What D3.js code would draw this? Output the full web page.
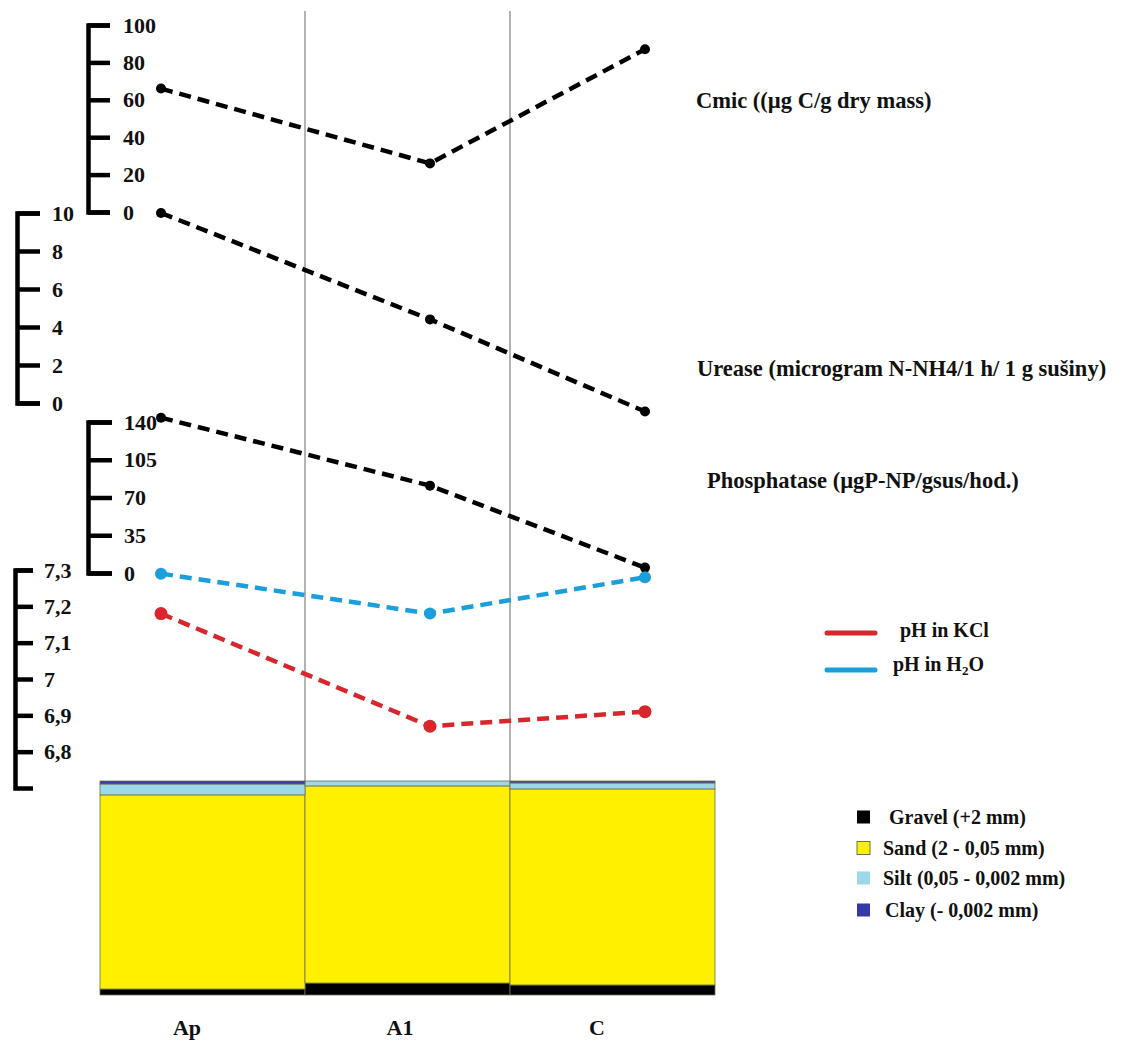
<!DOCTYPE html>
<html>
<head>
<meta charset="utf-8">
<script src="https://cdn.jsdelivr.net/npm/d3@7"></script>
<style>
  body { margin: 0; background: #fff; }
  svg { display: block; }
  text { font-family: "Liberation Serif", "Times New Roman", serif; font-weight: bold; fill: #111; }
</style>
</head>
<body>
<svg id="chart" width="1125" height="1041"></svg>
<script>
const horizons = ["Ap", "A1", "C"];

// enzyme / biomass lines
const cmic = [66, 26, 87];
const urease = [10, 4.4, -0.45];
const phosphatase = [144, 81, 5];

// pH lines
const phKCl = [7.18, 6.87, 6.91];
const phH2O = [7.29, 7.18, 7.28];

// grain size (%), bottom to top
const gravel = [2.8, 5.6, 4.7];
const sand = [90.7, 92.1, 91.6];
const silt = [5.1, 2.3, 2.8];
const clay = [1.4, 0, 0.9];

const cmicTicks = [0, 20, 40, 60, 80, 100];
const ureaseTicks = [0, 2, 4, 6, 8, 10];
const phosTicks = [0, 35, 70, 105, 140];
const phTicks = [6.8, 6.9, 7, 7.1, 7.2, 7.3];

const fractions = [
    {key: "gravel", label: "Gravel (+2 mm)", values: gravel, color: "#000000"},
    {key: "sand", label: "Sand (2 - 0,05 mm)", values: sand, color: "#fff000"},
    {key: "silt", label: "Silt (0,05 - 0,002 mm)", values: silt, color: "#9dd8e8"},
    {key: "clay", label: "Clay (- 0,002 mm)", values: clay, color: "#3539a8"}
];

const svg = d3.select("#chart");

// scales
const xBand = d3.scaleBand().domain(horizons).range([100, 715]).padding(0);
const xPoint = d3.scaleOrdinal().domain(horizons).range([161, 430, 645]);
const xLabel = d3.scaleOrdinal().domain(horizons).range([187, 400, 597]);

const yCmic = d3.scaleLinear().domain([0, 100]).range([212, 25]);
const yUrease = d3.scaleLinear().domain([0, 10]).range([403, 213]);
const yPhos = d3.scaleLinear().domain([0, 140]).range([573, 422]);
const yPh = d3.scaleLinear().domain([6.7, 7.3]).range([788, 570]);
const ySoil = d3.scaleLinear().domain([0, 100]).range([995, 781]);

const commaFormat = d => String(d).replace(".", ",");

// vertical separators between horizons
svg.append("g")
    .selectAll("line")
    .data(horizons.slice(1))
    .join("line")
    .attr("x1", d => xBand(d))
    .attr("x2", d => xBand(d))
    .attr("y1", 11)
    .attr("y2", ySoil(100))
    .attr("stroke", "#9a9a9a")
    .attr("stroke-width", 1.5);

// stacked grain size bars
const stack = d3.stack()
    .keys(fractions.map(f => f.key))
    .value((d, key) => d[key]);
const soilRows = horizons.map((h, i) => ({
    horizon: h, gravel: gravel[i], sand: sand[i], silt: silt[i], clay: clay[i]
}));
const layers = stack(soilRows);

svg.append("g")
    .selectAll("g")
    .data(layers)
    .join("g")
    .attr("fill", (d, i) => fractions[i].color)
    .selectAll("rect")
    .data(d => d)
    .join("rect")
    .attr("x", d => xBand(d.data.horizon))
    .attr("width", xBand.bandwidth())
    .attr("y", d => ySoil(d[1]))
    .attr("height", d => ySoil(d[0]) - ySoil(d[1]))
    .attr("stroke", "#6f6f55")
    .attr("stroke-width", 0.8);

// y axes
function drawAxis(scale, x, ticks, size, pad) {
    const g = svg.append("g")
        .attr("transform", "translate(" + x + ",0)")
        .call(d3.axisRight(scale)
            .tickValues(ticks)
            .tickSize(size)
            .tickSizeOuter(size)
            .tickPadding(pad)
            .tickFormat(commaFormat));
    g.select(".domain").attr("stroke", "#000").attr("stroke-width", 4.5);
    g.selectAll(".tick line").attr("stroke", "#000").attr("stroke-width", 4.5);
    g.selectAll(".tick text")
        .attr("fill", "#111")
        .style("font-family", "'Liberation Serif', serif")
        .style("font-weight", "bold")
        .style("font-size", "22px");
    return g;
}

drawAxis(yCmic, 88, cmicTicks, 22, 13);
drawAxis(yUrease, 17, ureaseTicks, 23, 12);
drawAxis(yPhos, 88, phosTicks, 24, 12);
drawAxis(yPh, 15, phTicks, 18, 11);

// dashed series
const series = [
    {values: cmic, y: yCmic, color: "#000", r: 5},
    {values: urease, y: yUrease, color: "#000", r: 5},
    {values: phosphatase, y: yPhos, color: "#000", r: 5},
    {values: phH2O, y: yPh, color: "#1a9fdb", r: 6},
    {values: phKCl, y: yPh, color: "#d9262c", r: 6.5}
];

series.forEach(s => {
    const pts = horizons.map((h, i) => [xPoint(h), s.y(s.values[i])]);
    svg.append("path")
        .attr("d", d3.line()(pts))
        .attr("fill", "none")
        .attr("stroke", s.color)
        .attr("stroke-width", 4.5)
        .attr("stroke-dasharray", "12,7");
    svg.append("g")
        .selectAll("circle")
        .data(pts)
        .join("circle")
        .attr("cx", d => d[0])
        .attr("cy", d => d[1])
        .attr("r", s.r)
        .attr("fill", s.color);
});

// series titles
const titles = [
    {text: "Cmic ((µg C/g dry mass)", x: 696, y: 100},
    {text: "Urease (microgram N-NH4/1 h/ 1 g sušiny)", x: 697, y: 368},
    {text: "Phosphatase (µgP-NP/gsus/hod.)", x: 707, y: 480}
];
svg.append("g")
    .selectAll("text")
    .data(titles)
    .join("text")
    .attr("x", d => d.x)
    .attr("y", d => d.y)
    .attr("dy", "0.35em")
    .style("font-size", "22.5px")
    .text(d => d.text);

// pH legend
const phLegend = svg.append("g");
[{y: 633, color: "#d9262c"}, {y: 670, color: "#1a9fdb"}].forEach(d => {
    phLegend.append("line")
        .attr("x1", 827).attr("x2", 875)
        .attr("y1", d.y).attr("y2", d.y)
        .attr("stroke", d.color)
        .attr("stroke-width", 5)
        .attr("stroke-linecap", "round");
});
phLegend.append("text")
    .attr("x", 900).attr("y", 630).attr("dy", "0.35em")
    .style("font-size", "20px")
    .text("pH in KCl");
const h2o = phLegend.append("text")
    .attr("x", 893).attr("y", 664).attr("dy", "0.35em")
    .style("font-size", "20px");
h2o.append("tspan").text("pH in H");
h2o.append("tspan").attr("dy", 4).style("font-size", "13px").text("2");
h2o.append("tspan").attr("dy", -4).text("O");

// grain size legend
const soilLegendY = [817, 848, 878, 910];
const soilLegendX = [889, 883, 883, 885];
const soilLegend = svg.append("g")
    .selectAll("g")
    .data(fractions)
    .join("g")
    .attr("transform", (d, i) => "translate(0," + soilLegendY[i] + ")");
soilLegend.append("rect")
    .attr("x", 857).attr("y", -6.5)
    .attr("width", 13).attr("height", 13)
    .attr("fill", d => d.color)
    .attr("stroke", d => d.key === "sand" ? "#6f6f55" : "none")
    .attr("stroke-width", 1);
soilLegend.append("text")
    .attr("x", (d, i) => soilLegendX[i])
    .attr("dy", "0.35em")
    .style("font-size", "20px")
    .text(d => d.label);

// horizon labels
svg.append("g")
    .selectAll("text")
    .data(horizons)
    .join("text")
    .attr("x", d => xLabel(d))
    .attr("y", 1027)
    .attr("dy", "0.35em")
    .attr("text-anchor", "middle")
    .style("font-size", "22px")
    .text(d => d);
</script>
</body>
</html>
